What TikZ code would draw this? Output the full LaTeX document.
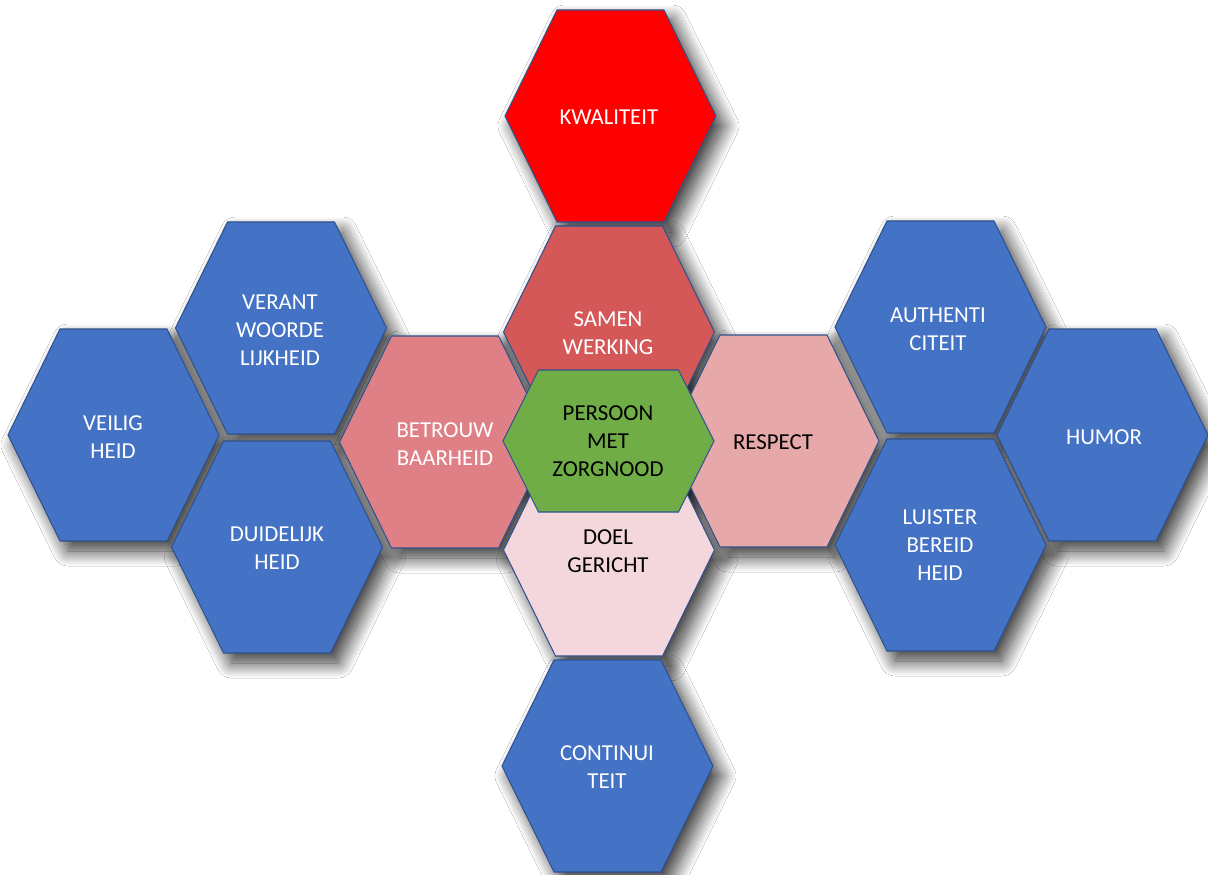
\documentclass[tikz,border=0pt]{standalone}
\usepackage{fontspec}
\setmainfont{Carlito}
\usetikzlibrary{shadows.blur}
\definecolor{hexborder}{HTML}{2F528F}
\definecolor{cellblue}{HTML}{4472C4}
\definecolor{cellred}{HTML}{FF0000}
\definecolor{samenred}{HTML}{D45858}
\definecolor{betrouwrose}{HTML}{DF8087}
\definecolor{respectrose}{HTML}{E6A8A9}
\definecolor{doelpink}{HTML}{F4D7DD}
\definecolor{persoongreen}{HTML}{70AD47}
\tikzset{
  hexline/.style={draw=hexborder, line width=0.6pt},
  hexshadow/.style={blur shadow={shadow xshift=0.16cm, shadow yshift=-0.2cm,
      shadow blur radius=0.3cm, shadow blur steps=20, shadow opacity=80}},
  lbl/.style={align=center, inner sep=0pt, text=white,
      font=\fontsize{13}{15.9}\selectfont},
  lbldark/.style={lbl, text=black}
}
\begin{document}
\begin{tikzpicture}[x=0.02cm, y=-0.02cm]
\useasboundingbox[fill=white] (0,0) rectangle (1208,875);
% shadows first, so that no cell darkens another one
\foreach \x/\y/\t/\h in {610.5/116/53.5/106, 609/332/53.5/106, 445/442/53.5/106,
    773.5/441/53.5/106, 609/550/53.5/106, 608.5/441/70/71, 281/328/53.5/106,
    113.5/435/53.5/106, 277/547/53.5/106, 940.5/327/53.5/106, 1102.5/435/53.5/106,
    940.5/545/53.5/106, 607.5/766/53.5/106}
  \path[hexshadow, shift={(\x,\y)}] (-105.5,0) -- (-\t,-\h) -- (\t,-\h) -- (105.5,0)
    -- (\t,\h) -- (-\t,\h) -- cycle;
% cells
\foreach \x/\y/\t/\h/\c in {610.5/116/53.5/106/cellred, 609/332/53.5/106/samenred,
    445/442/53.5/106/betrouwrose, 773.5/441/53.5/106/respectrose,
    609/550/53.5/106/doelpink, 608.5/441/70/71/persoongreen,
    281/328/53.5/106/cellblue, 113.5/435/53.5/106/cellblue, 277/547/53.5/106/cellblue,
    940.5/327/53.5/106/cellblue, 1102.5/435/53.5/106/cellblue,
    940.5/545/53.5/106/cellblue, 607.5/766/53.5/106/cellblue}
  \draw[hexline, fill=\c, shift={(\x,\y)}] (-105.5,0) -- (-\t,-\h) -- (\t,-\h)
    -- (105.5,0) -- (\t,\h) -- (-\t,\h) -- cycle;
% labels
\node[lbl] (kwaliteit) at (609,117) {KWALITEIT};
\node[lbl] (samenwerking) at (608,333) {SAMEN\\WERKING};
\node[lbl] (betrouwbaarheid) at (445,444) {BETROUW\\BAARHEID};
\node[lbldark] (respect) at (773,442) {RESPECT};
\node[lbldark] (doelgericht) at (608,551) {DOEL\\GERICHT};
\node[lbldark] (persoon) at (608,441) {PERSOON\\MET\\ZORGNOOD};
\node[lbl] (verantwoordelijkheid) at (280,330) {VERANT\\WOORDE\\LIJKHEID};
\node[lbl] (veiligheid) at (113,437) {VEILIG\\HEID};
\node[lbl] (duidelijkheid) at (277,548) {DUIDELIJK\\HEID};
\node[lbl] (authenticiteit) at (938,329) {AUTHENTI\\CITEIT};
\node[lbl] (humor) at (1104,437) {HUMOR};
\node[lbl] (luisterbereidheid) at (940,545) {LUISTER\\BEREID\\HEID};
\node[lbl] (continuiteit) at (607,767) {CONTINUI\\TEIT};
\end{tikzpicture}
\end{document}
